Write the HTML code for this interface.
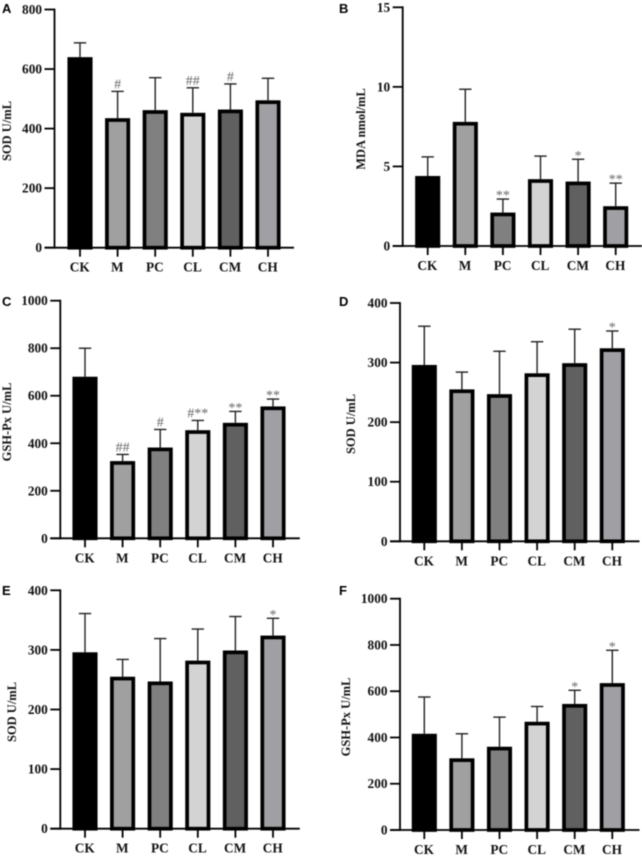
<!DOCTYPE html>
<html lang="en">
<head>
<meta charset="utf-8">
<title>Six-panel antioxidant bar charts</title>
<style>
html,body{margin:0;padding:0;background:#fff;}
#figure{display:block;width:642px;height:857px;filter:blur(0.45px);}
text{font-family:"Liberation Serif",serif;font-weight:bold;fill:#111;}
</style>
</head>
<body>
<svg id="figure" xmlns="http://www.w3.org/2000/svg" width="642" height="857" viewBox="0 0 642 857"></svg>
<script>
const categories = ['CK', 'M', 'PC', 'CL', 'CM', 'CH'];
const barColors = ['#000000', '#a0a0a0', '#808080', '#d3d3d3', '#606060', '#a0a0a4'];

const ticksA = [0, 200, 400, 600, 800];
const meansA = [640, 435, 462, 453, 464, 495];
const errorTopsA = [688, 525, 571, 537, 550, 569];
const marksA = ['', '#', '', '##', '#', ''];

const ticksB = [0, 5, 10, 15];
const meansB = [4.4, 7.8, 2.1, 4.2, 4.05, 2.5];
const errorTopsB = [5.6, 9.85, 2.95, 5.65, 5.45, 3.95];
const marksB = ['', '', '**', '', '*', '**'];

const ticksC = [0, 200, 400, 600, 800, 1000];
const meansC = [680, 325, 382, 455, 486, 555];
const errorTopsC = [800, 353, 458, 496, 534, 586];
const marksC = ['', '##', '#', '#**', '**', '**'];

const ticksD = [0, 100, 200, 300, 400];
const meansD = [296, 255, 247, 282, 299, 324];
const errorTopsD = [361, 284, 319, 335, 356, 353];
const marksD = ['', '', '', '', '', '*'];

const ticksE = [0, 100, 200, 300, 400];
const meansE = [296, 255, 247, 282, 299, 324];
const errorTopsE = [361, 284, 319, 335, 356, 353];
const marksE = ['', '', '', '', '', '*'];

const ticksF = [0, 200, 400, 600, 800, 1000];
const meansF = [416, 310, 360, 468, 545, 635];
const errorTopsF = [575, 416, 488, 534, 604, 777];
const marksF = ['', '', '', '', '*', '*'];

const SVG_NS = 'http://www.w3.org/2000/svg';
const figure = document.getElementById('figure');

function svgEl(parent, tag, attrs, content) {
  const el = document.createElementNS(SVG_NS, tag);
  for (const key in attrs) el.setAttribute(key, attrs[key]);
  if (content !== undefined) el.textContent = content;
  parent.appendChild(el);
  return el;
}

function drawPanel(p) {
  const group = svgEl(figure, 'g', {});
  
  

  const yMax = p.ticks[p.ticks.length - 1];
  const yScale = function (v) { return p.bottom - (v / yMax) * (p.bottom - p.top); };
  const xScale = function (i) { return p.axisX + p.firstOffset + i * 37.6; };

  const letter = svgEl(group, 'text', { x: p.letterX, y: p.letterY, 'font-size': 13, style: 'font-family:"Liberation Sans",sans-serif;fill:#000' }, p.letter);
  
  

  const title = svgEl(group, 'text', { x: 0, y: 0, 'font-size': 12.5, 'text-anchor': 'middle', transform: 'translate(' + p.titleX + ' ' + p.titleY + ') rotate(-90)' }, p.title);
  
  

  p.means.forEach(function (mean, i) {
    const cx = xScale(i);
    const stem = svgEl(group, 'line', { x1: cx, x2: cx, y1: yScale(mean), y2: yScale(p.errorTops[i]), stroke: '#222', 'stroke-width': 1.4 });
    
    
    const cap = svgEl(group, 'line', { x1: cx - 6.2, x2: cx + 6.2, y1: yScale(p.errorTops[i]), y2: yScale(p.errorTops[i]), stroke: '#222', 'stroke-width': 1.4 });
    
    

    const topY = yScale(mean);
    const bar = svgEl(group, 'rect', { x: cx - 10.7, y: topY + 1.85, width: 21.4, height: Math.max(p.bottom - topY - 1.85, 0), fill: barColors[i], stroke: '#000', 'stroke-width': 3.7 });
    
    

    if (p.marks[i]) {
      const onlyStars = p.marks[i].indexOf('#') === -1;
      const capY = yScale(p.errorTops[i]);
      const mark = svgEl(group, 'text', { x: cx, y: onlyStars ? capY + 0.5 : capY - 3, 'font-size': 14, 'text-anchor': 'middle', style: 'font-weight:normal;fill:#666' }, p.marks[i]);
      
      
    }

    const tick = svgEl(group, 'line', { x1: cx, x2: cx, y1: p.bottom, y2: p.bottom + 9, stroke: '#000', 'stroke-width': 1.8 });
    
    
    const label = svgEl(group, 'text', { x: cx - 0.3, y: p.bottom + 24, 'font-size': 13.3, 'text-anchor': 'middle' }, categories[i]);
    
    
  });

  const yAxis = svgEl(group, 'line', { x1: p.axisX, x2: p.axisX, y1: p.top - 0.9, y2: p.bottom + 0.9, stroke: '#000', 'stroke-width': 1.8 });
  
  
  const xAxis = svgEl(group, 'line', { x1: p.axisX - 10, x2: p.axisX + 239.5, y1: p.bottom, y2: p.bottom, stroke: '#000', 'stroke-width': 1.8 });
  
  

  p.ticks.forEach(function (t) {
    const ty = yScale(t);
    const tick = svgEl(group, 'line', { x1: p.axisX - 10, x2: p.axisX, y1: ty, y2: ty, stroke: '#000', 'stroke-width': 1.8 });
    
    
    const label = svgEl(group, 'text', { x: p.axisX - 12.5, y: ty + 4.5, 'font-size': 13.3, 'text-anchor': 'end' }, String(t));
    
    
  });
}

drawPanel({ letter: 'A', letterX: 2, letterY: 13, title: 'SOD U/mL', titleX: 11, titleY: 131, axisX: 54.5, firstOffset: 25.5, top: 9.5, bottom: 247.7, ticks: ticksA, means: meansA, errorTops: errorTopsA, marks: marksA });
drawPanel({ letter: 'B', letterX: 339, letterY: 13, title: 'MDA nmol/mL', titleX: 365, titleY: 129, axisX: 402.7, firstOffset: 25, top: 7.3, bottom: 246, ticks: ticksB, means: meansB, errorTops: errorTopsB, marks: marksB });
drawPanel({ letter: 'C', letterX: 2, letterY: 306, title: 'GSH-Px U/mL', titleX: 11, titleY: 422, axisX: 60.3, firstOffset: 24.7, top: 300.7, bottom: 538.3, ticks: ticksC, means: meansC, errorTops: errorTopsC, marks: marksC });
drawPanel({ letter: 'D', letterX: 339, letterY: 306, title: 'SOD U/mL', titleX: 355, titleY: 424, axisX: 400, firstOffset: 24.3, top: 303, bottom: 541.3, ticks: ticksD, means: meansD, errorTops: errorTopsD, marks: marksD });
drawPanel({ letter: 'E', letterX: 2, letterY: 595, title: 'SOD U/mL', titleX: 16, titleY: 712, axisX: 60.3, firstOffset: 24.7, top: 590.3, bottom: 828.7, ticks: ticksE, means: meansE, errorTops: errorTopsE, marks: marksE });
drawPanel({ letter: 'F', letterX: 339, letterY: 595, title: 'GSH-Px U/mL', titleX: 350, titleY: 717, axisX: 400, firstOffset: 24.3, top: 598.7, bottom: 830, ticks: ticksF, means: meansF, errorTops: errorTopsF, marks: marksF });
</script>
</body>
</html>
